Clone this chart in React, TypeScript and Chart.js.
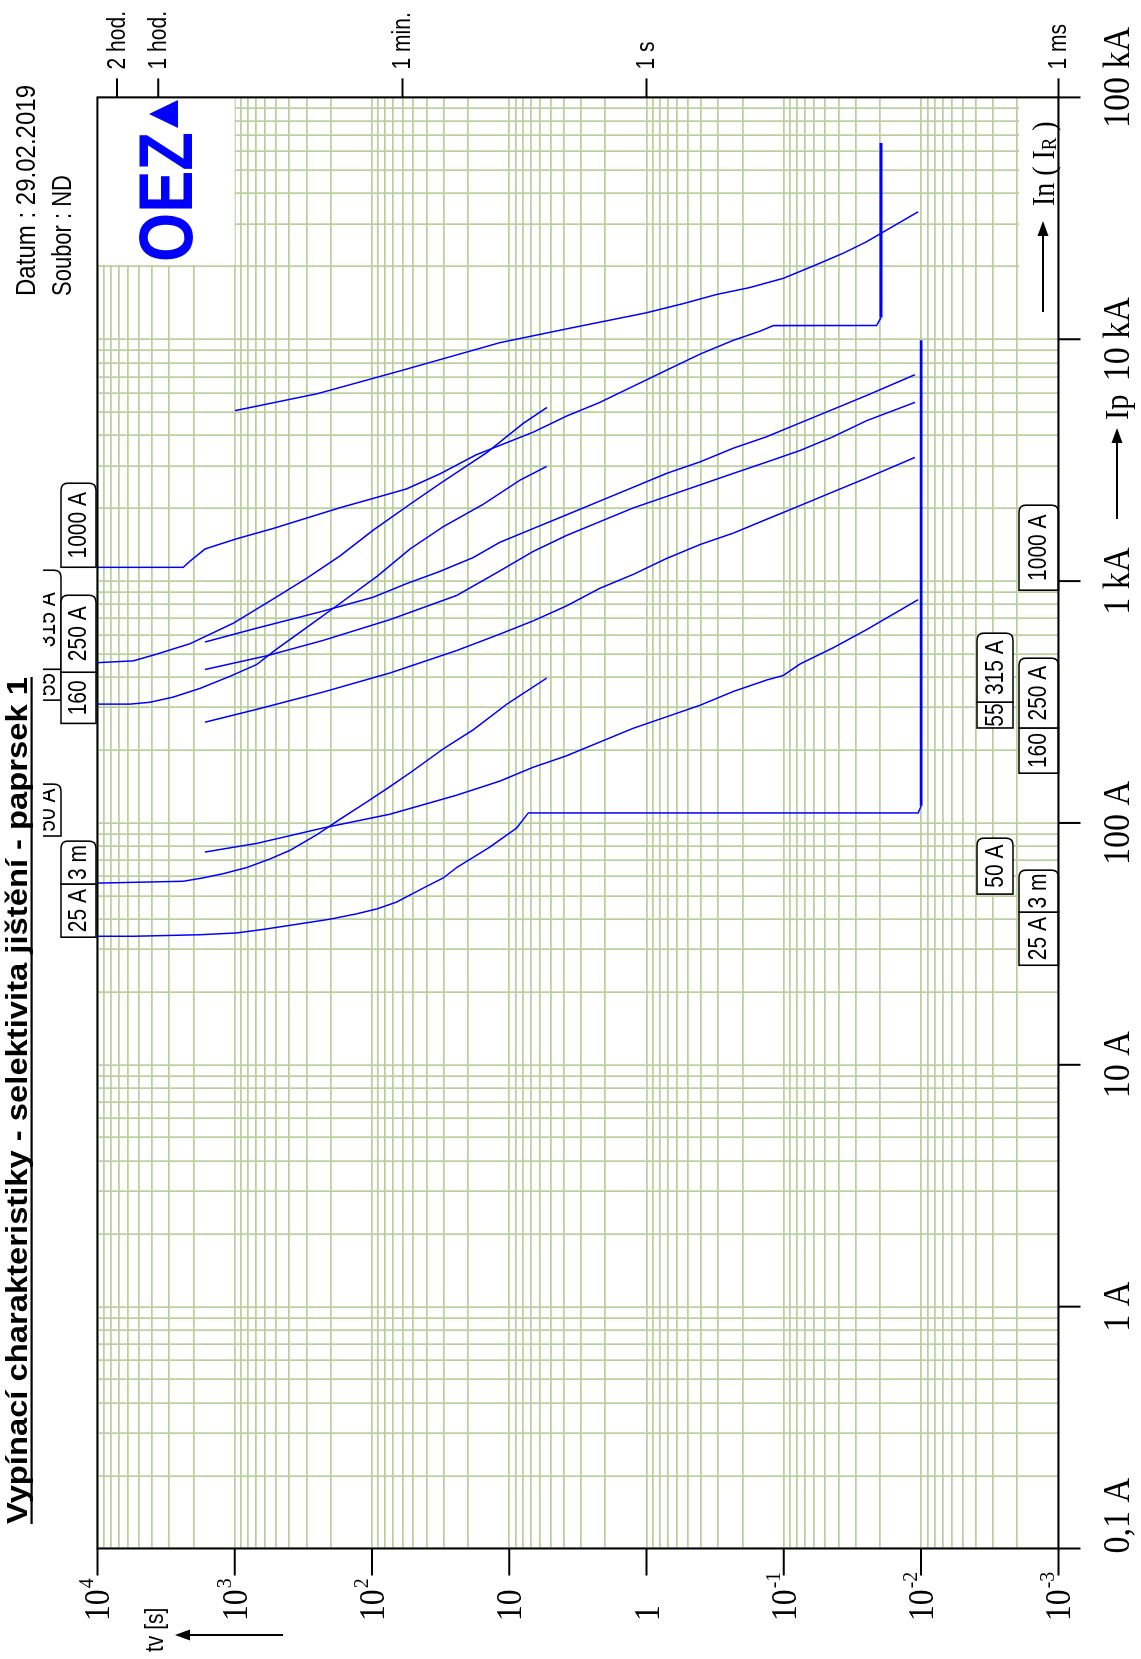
import React, { useEffect, useRef } from 'react';
import { Chart, registerables } from 'chart.js';

Chart.register(...registerables);

// Unrotated chart size (the whole picture is turned 90° counter-clockwise on the page)
const CW = 1659;
const CH = 1141;

// ---------- axes ----------
const CURRENT_TICKS = [0.1, 1, 10, 100, 1000, 10000, 100000];
const CURRENT_LABELS = ['0,1 A', '1 A', '10 A', '100 A', '1 kA', '10 kA', '100 kA'];
const TIME_TICKS = [10000, 1000, 100, 10, 1, 0.1, 0.01, 0.001];
const TIME_BASES = ['10', '10', '10', '10', '1', '10', '10', '10'];
const TIME_EXPS = ['4', '3', '2', '', '', '-1', '-2', '-3'];
const TIME_MARKS = [7200, 3600, 60, 1, 0.001];
const TIME_MARK_LABELS = ['2 hod.', '1 hod.', '1 min.', '1 s', '1 ms'];
const GRID_STEPS = [1, 2, 3, 4, 5, 6, 7, 8, 9];
const CURRENT_DECADES = [0.1, 1, 10, 100, 1000, 10000];
const TIME_DECADES = [0.001, 0.01, 0.1, 1, 10, 100, 1000];

// ---------- curves: current [A] / time [s] ----------
const C1_I = [5068, 5959, 7437, 9680, 11040, 12870, 14040, 15320, 16360, 17860, 20360, 22690, 25320, 33660];
const C1_T = [995, 249, 60.3, 11.7, 3.82, 1.0, 0.54, 0.309, 0.177, 0.101, 0.0577, 0.0369, 0.0249, 0.0105];

const C2_I = [1140, 1140, 1209, 1357, 1379, 1497, 1651, 1823, 2011, 2198, 2407, 2775, 3324, 4130, 4814, 5484, 6393, 7453, 8679, 9897, 10800, 11380, 11400, 12300, 64800];
const C2_T = [10000, 2368, 2117, 1646, 1513, 967, 524, 299, 171, 97.8, 55.9, 32, 17.5, 6.69, 3.82, 2.185, 1.25, 0.714, 0.408, 0.2336, 0.1493, 0.1194, 0.0211, 0.0196, 0.0196];

const C3_I = [460, 468, 499, 551, 670, 843, 1027, 1271, 1625, 2077, 2529, 3398, 4490, 5225];
const C3_T = [10000, 5477, 3700, 2117, 1024, 524, 299, 171, 97.8, 52.9, 32, 14.6, 7.91, 5.31];

const C4_I = [310, 310, 315.5, 331.5, 360, 404, 452, 524, 628, 790, 1044, 1357, 1680, 2077, 2613, 2980];
const C4_T = [10000, 5789, 4140, 2800, 1789, 1082, 691, 494, 316.5, 180.8, 92.4, 52.9, 30.2, 15.5, 8.36, 5.34];

const C5_I = [560, 639, 752, 858, 977, 1097, 1251, 1447, 1650, 1880, 2144, 2444, 2788, 3111, 3544, 3954, 4508, 5135, 5858, 7133];
const C5_T = [1646, 691, 226, 97.8, 55.9, 32, 18.3, 11.7, 6.69, 3.82, 2.185, 1.25, 0.714, 0.408, 0.2336, 0.1334, 0.0763, 0.0437, 0.0249, 0.0111];

const C6_I = [431, 491, 569, 693, 872, 1102, 1326, 1545, 1762, 2007, 2239, 2499, 2788, 3107, 3467, 3954, 4608, 5484];
const C6_T = [1646, 585, 226, 73.9, 24.2, 11.7, 6.69, 3.82, 2.185, 1.25, 0.714, 0.408, 0.2336, 0.1334, 0.0763, 0.0437, 0.0249, 0.0111];

const C7_I = [261, 295, 348, 417, 516, 604, 685, 790, 934, 1066, 1241, 1416, 1579, 1801, 2052, 2340, 2669, 3246];
const C7_T = [1646, 691, 226, 73.9, 24.2, 11.7, 6.69, 3.82, 2.185, 1.25, 0.714, 0.408, 0.2336, 0.1334, 0.0763, 0.0437, 0.0249, 0.0111];

const C8_I = [56.4, 57.4, 59.3, 61.7, 65.4, 71.0, 77.0, 89.3, 103.6, 122, 141.4, 161, 202.6, 242.8, 310, 397];
const C8_T = [10000, 2368, 1693, 1211, 818, 553, 396, 253, 171, 109.3, 73.9, 52.9, 30.2, 18.3, 10.4, 5.34];

const C9_I = [75.8, 82.3, 95.4, 108.7, 130.2, 149, 170, 189.6, 216.2, 246.3, 274.8, 306.6, 349.6, 390, 407, 454, 530, 630, 838];
const C9_T = [1646, 691, 226, 73.9, 24.2, 11.7, 6.69, 3.82, 2.185, 1.25, 0.714, 0.408, 0.2336, 0.1334, 0.101, 0.0763, 0.0437, 0.0249, 0.0105];

const C10_I = [34.0, 34.0, 34.5, 35.1, 36.3, 38.1, 40.0, 42.1, 44.1, 47.1, 53.8, 59.3, 65.4, 79.6, 95.3, 110, 110, 117.7, 9900];
const C10_T = [10000, 5477, 1789, 967, 619, 353.5, 202.2, 129.2, 92.4, 66.1, 42.3, 30.2, 24.2, 13.8, 8.83, 7.27, 0.0105, 0.01, 0.01];

const CURVES_I = [C1_I, C2_I, C3_I, C4_I, C5_I, C6_I, C7_I, C8_I, C9_I, C10_I];
const CURVES_T = [C1_T, C2_T, C3_T, C4_T, C5_T, C6_T, C7_T, C8_T, C9_T, C10_T];

// ---------- device tags (current where the tag starts / ends) ----------
const TOP_TAG_TEXT = ['25 A', '3 m', '160', '250 A', '1000 A'];
const TOP_TAG_FROM = [33.7, 55.9, 258, 420, 1141];
const TOP_TAG_TO = [55.9, 84.1, 420, 874, 2539];
const TOP2_TAG_TEXT = ['50 A', '55', '315 A'];
const TOP2_TAG_FROM = [88.3, 322, 432];
const TOP2_TAG_TO = [144.7, 432, 1109];
const BOT_TAG_TEXT = ['25 A', '3 m', '160', '250 A', '1000 A'];
const BOT_TAG_FROM = [25.8, 42.8, 160.6, 247, 917];
const BOT_TAG_TO = [42.8, 63.8, 247, 480, 2060];
const BOT2_TAG_TEXT = ['50 A', '55', '315 A'];
const BOT2_TAG_FROM = [50.8, 247, 316];
const BOT2_TAG_TO = [86.5, 316, 609];

const TITLE = 'Vypínací charakteristiky - selektivita jištění - paprsek 1';
const DATE_TEXT = 'Datum : 29.02.2019';
const FILE_TEXT = 'Soubor : ND';

const BLUE = '#0000ff';
const GRID_COLOR = '#b9cf9d';
const SANS = '"Liberation Sans", Arial, sans-serif';
const SERIF = '"Liberation Serif", "Times New Roman", serif';

function drawText(
  ctx: CanvasRenderingContext2D,
  text: string,
  x: number,
  y: number,
  font: string,
  align: 'left' | 'center' | 'right' = 'left',
  scaleX = 1,
  baseline: CanvasTextBaseline = 'alphabetic',
  fitWidth = 0,
  color = '#000'
) {
  ctx.save();
  ctx.font = font;
  ctx.textBaseline = baseline;
  ctx.textAlign = 'left';
  ctx.fillStyle = color;
  const w = ctx.measureText(text).width;
  const sx = fitWidth ? fitWidth / w : scaleX;
  const dw = w * sx;
  const left = align === 'center' ? x - dw / 2 : align === 'right' ? x - dw : x;
  ctx.translate(left, y);
  ctx.scale(sx, 1);
  ctx.fillText(text, 0, 0);
  ctx.restore();
  return dw;
}

function arrow(ctx: CanvasRenderingContext2D, x0: number, y0: number, x1: number, y1: number) {
  const ang = Math.atan2(y1 - y0, x1 - x0);
  const hl = 15;
  const hw = 5.5;
  ctx.save();
  ctx.strokeStyle = '#000';
  ctx.fillStyle = '#000';
  ctx.lineWidth = 2;
  ctx.beginPath();
  ctx.moveTo(x0, y0);
  ctx.lineTo(x1 - Math.cos(ang) * hl * 0.8, y1 - Math.sin(ang) * hl * 0.8);
  ctx.stroke();
  ctx.beginPath();
  ctx.moveTo(x1, y1);
  ctx.lineTo(x1 - Math.cos(ang) * hl - Math.sin(ang) * hw, y1 - Math.sin(ang) * hl + Math.cos(ang) * hw);
  ctx.lineTo(x1 - Math.cos(ang) * hl + Math.sin(ang) * hw, y1 - Math.sin(ang) * hl - Math.cos(ang) * hw);
  ctx.closePath();
  ctx.fill();
  ctx.restore();
}

function drawTags(
  ctx: CanvasRenderingContext2D,
  xs: (v: number) => number,
  texts: string[],
  from: number[],
  to: number[],
  y0: number,
  y1: number,
  textY: number
) {
  for (let i = 0; i < texts.length; i++) {
    const x0 = xs(from[i]);
    const x1 = xs(to[i]);
    const rounded = !from.some((f) => Math.abs(f - to[i]) < 1e-9);
    const r = rounded ? 7 : 0;
    ctx.save();
    ctx.beginPath();
    ctx.moveTo(x0, y0);
    ctx.lineTo(x1 - r, y0);
    if (r) ctx.quadraticCurveTo(x1, y0, x1, y0 + r);
    ctx.lineTo(x1, y1 - r);
    if (r) ctx.quadraticCurveTo(x1, y1, x1 - r, y1);
    ctx.lineTo(x0, y1);
    ctx.closePath();
    ctx.fillStyle = '#fff';
    ctx.fill();
    ctx.lineWidth = 1.6;
    ctx.strokeStyle = '#000';
    ctx.stroke();
    ctx.restore();
    drawText(ctx, texts[i], (x0 + x1) / 2, textY, `25px ${SANS}`, 'center', 0.84, 'middle');
  }
}

const decor = {
  id: 'decor',
  beforeDraw(chart: any) {
    const ctx = chart.ctx;
    ctx.save();
    ctx.fillStyle = '#fff';
    ctx.fillRect(0, 0, chart.width, chart.height);
    ctx.restore();
  },
  beforeDatasetsDraw(chart: any) {
    const ctx = chart.ctx;
    const { right, top, bottom } = chart.chartArea;
    const xs = (v: number) => chart.scales.x.getPixelForValue(v);
    const ys = (v: number) => chart.scales.y.getPixelForValue(v);
    ctx.save();
    ctx.fillStyle = '#fff';
    // logo field
    ctx.fillRect(xs(20300), top, right - xs(20300), ys(1000) - top);
    // In (IR) field
    ctx.fillRect(xs(14000), ys(0.00193), right - xs(14000), bottom - ys(0.00193));
    ctx.restore();
  },
  afterDraw(chart: any) {
    const ctx: CanvasRenderingContext2D = chart.ctx;
    const { left, right, top, bottom } = chart.chartArea;
    const xs = (v: number) => chart.scales.x.getPixelForValue(v);
    const ys = (v: number) => chart.scales.y.getPixelForValue(v);

    // tags
    drawTags(ctx, xs, TOP2_TAG_TEXT, TOP2_TAG_FROM, TOP2_TAG_TO, 27, 61, 48);
    drawTags(ctx, xs, TOP_TAG_TEXT, TOP_TAG_FROM, TOP_TAG_TO, 61, 96, 79);
    drawTags(ctx, xs, BOT2_TAG_TEXT, BOT2_TAG_FROM, BOT2_TAG_TO, 977, 1013, 996);
    drawTags(ctx, xs, BOT_TAG_TEXT, BOT_TAG_FROM, BOT_TAG_TO, 1019, bottom, 1039);

    // header band
    ctx.save();
    ctx.fillStyle = '#fff';
    ctx.fillRect(0, 0, CW, 43);
    ctx.restore();

    // title
    const tw = drawText(ctx, TITLE, 135, 26.5, `bold 29px ${SANS}`, 'left', 1, 'alphabetic', 847);
    ctx.save();
    ctx.fillStyle = '#000';
    ctx.fillRect(135, 30.5, tw, 2.2);
    ctx.restore();

    drawText(ctx, DATE_TEXT, 1363, 35, `28px ${SANS}`, 'left', 1, 'alphabetic', 211);
    drawText(ctx, FILE_TEXT, 1363, 71, `28px ${SANS}`, 'left', 1, 'alphabetic', 121);

    // frame
    ctx.save();
    ctx.strokeStyle = '#000';
    ctx.lineWidth = 2;
    ctx.strokeRect(left, top, right - left, bottom - top);

    // current ticks
    ctx.beginPath();
    CURRENT_TICKS.forEach((v) => {
      const x = xs(v);
      ctx.moveTo(x, bottom);
      ctx.lineTo(x, bottom + 22);
    });
    // time ticks (left)
    TIME_TICKS.forEach((v) => {
      const y = ys(v);
      ctx.moveTo(left, y);
      ctx.lineTo(left - 27, y);
    });
    // time marks (right)
    TIME_MARKS.forEach((v) => {
      const y = ys(v);
      ctx.moveTo(right, y);
      ctx.lineTo(right + 19, y);
    });
    ctx.stroke();
    ctx.restore();

    // current labels
    CURRENT_LABELS.forEach((lab, i) => {
      const x = xs(CURRENT_TICKS[i]);
      if (i === 0) drawText(ctx, lab, x - 5, 1129, `37px ${SERIF}`, 'left', 0.92);
      else if (i === CURRENT_LABELS.length - 1) drawText(ctx, lab, x + 20, 1129, `37px ${SERIF}`, 'center', 0.92);
      else drawText(ctx, lab, x, 1129, `37px ${SERIF}`, 'center', 0.92);
    });

    // time labels
    TIME_TICKS.forEach((v, i) => {
      const y = ys(v);
      const w = drawText(ctx, TIME_BASES[i], 38, y + 12, `36px ${SERIF}`, 'left', 0.88);
      if (TIME_EXPS[i]) drawText(ctx, TIME_EXPS[i], 38 + w + 1, y - 4, `22px ${SERIF}`, 'left', 0.9);
    });

    // time marks labels
    TIME_MARKS.forEach((v, i) => {
      drawText(ctx, TIME_MARK_LABELS[i], right + 28, ys(v) + 1, `25px ${SANS}`, 'left', 0.84, 'middle');
    });

    // axis captions
    drawText(ctx, 'tv [s]', 7, 163, `25px ${SANS}`, 'left', 0.84);
    arrow(ctx, 24, 283, 24, 175);

    arrow(ctx, 1140, 1117, 1231, 1117);
    drawText(ctx, 'Ip', 1239, 1128, `34px ${SERIF}`, 'left', 0.9);

    arrow(ctx, 1347, 1043, 1438, 1043);
    let ix = 1453;
    ix += drawText(ctx, 'In ( I', ix, 1054, `31px ${SERIF}`, 'left', 0.9);
    ix += drawText(ctx, 'R', ix, 1056, `21px ${SERIF}`, 'left', 0.9);
    drawText(ctx, ' )', ix, 1054, `31px ${SERIF}`, 'left', 0.9);

    // logo
    drawText(ctx, 'OEZ', 1397, 192, `bold 76px ${SANS}`, 'left', 1, 'alphabetic', 130, BLUE);
    ctx.save();
    ctx.fillStyle = BLUE;
    ctx.beginPath();
    ctx.moveTo(1545, 149);
    ctx.lineTo(1531, 178);
    ctx.lineTo(1559, 178);
    ctx.closePath();
    ctx.fill();
    ctx.restore();
  },
};

function gridValues(decades: number[]) {
  const out: number[] = [];
  decades.forEach((d) => GRID_STEPS.forEach((k) => out.push(+(d * k).toPrecision(6))));
  out.push(+(decades[decades.length - 1] * 10).toPrecision(6));
  return out;
}

export default function App() {
  const ref = useRef<HTMLCanvasElement | null>(null);

  useEffect(() => {
    if (!ref.current) return;
    document.body.style.overflow = 'hidden';
    const datasets = CURVES_I.map((arr, k) => ({
      label: `curve ${k + 1}`,
      data: arr.map((I, i) => ({ x: I, y: CURVES_T[k][i] })),
      showLine: true,
      borderColor: BLUE,
      backgroundColor: BLUE,
      borderWidth: 1.5,
      pointRadius: 0,
      tension: 0,
      segment: {
        borderWidth: (c: any) => (c.p0.parsed.y === c.p1.parsed.y ? 2.8 : 1.5),
      },
    }));

    const chart = new Chart(ref.current, {
      type: 'scatter',
      data: { datasets },
      options: {
        responsive: false,
        animation: false,
        devicePixelRatio: 1,
        layout: { padding: { left: 110.5, right: 97.4, top: 97.4, bottom: 82.6 } },
        plugins: { legend: { display: false }, tooltip: { enabled: false } },
        scales: {
          x: {
            type: 'logarithmic',
            min: 0.1,
            max: 100000,
            afterBuildTicks: (s: any) => {
              s.ticks = gridValues(CURRENT_DECADES).map((v) => ({ value: v }));
            },
            ticks: { display: false },
            grid: { color: GRID_COLOR, lineWidth: 1.7, drawTicks: false },
            border: { display: false },
          },
          y: {
            type: 'logarithmic',
            min: 0.001,
            max: 10000,
            afterBuildTicks: (s: any) => {
              s.ticks = gridValues(TIME_DECADES).map((v) => ({ value: v }));
            },
            ticks: { display: false },
            grid: { color: GRID_COLOR, lineWidth: 1.7, drawTicks: false },
            border: { display: false },
          },
        },
      } as any,
      plugins: [decor],
    });
    return () => chart.destroy();
  }, []);

  return (
    <div
      style={{
        position: 'fixed',
        left: 0,
        top: 0,
        width: CW,
        height: CH,
        transformOrigin: '0 0',
        transform: `translateY(${CW}px) rotate(-90deg)`,
        background: '#fff',
      }}
    >
      <canvas ref={ref} width={CW} height={CH} style={{ display: 'block', width: CW, height: CH }} />
    </div>
  );
}
